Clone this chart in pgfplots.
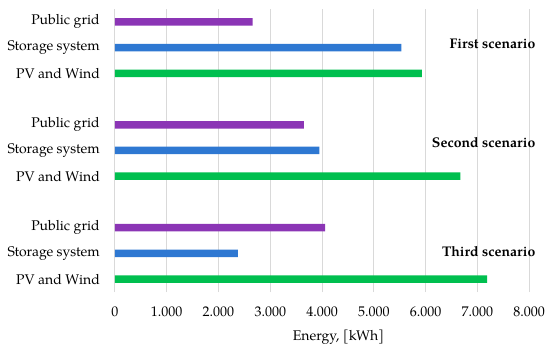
\documentclass[border=0pt]{standalone}
\usepackage{pgfplots}
\pgfplotsset{compat=1.18}
\usepackage{fontspec}
\setmainfont{TeX Gyre Pagella}
\definecolor{cpurple}{HTML}{8B35B5}
\definecolor{cblue}{HTML}{2E78D2}
\definecolor{cgreen}{HTML}{00BF4F}
\definecolor{cgrid}{HTML}{D9D9D9}
\begin{document}
\fontsize{14bp}{17bp}\selectfont
\begin{tikzpicture}
\path[use as bounding box] (-115bp,-59bp) rectangle (435bp,292bp);
\begin{axis}[
  at={(0,0)}, anchor=south west,
  scale only axis,
  width=414bp, height=283bp,
  xmin=0, xmax=8000,
  ymin=-0.5, ymax=10.5,
  axis line style={draw=none},
  major tick length=0pt,
  xtick={0,1000,...,8000},
  xticklabels={0,1.000,2.000,3.000,4.000,5.000,6.000,7.000,8.000},
  ytick={0,1,2,4,5,6,8,9,10},
  yticklabels={PV and Wind,Storage system,Public grid,PV and Wind,Storage system,Public grid,PV and Wind,Storage system,Public grid},
  xmajorgrids,
  grid style={cgrid, line width=1bp},
  xticklabel style={inner sep=0pt, yshift=-15bp, font=\fontsize{14bp}{17bp}\selectfont},
  yticklabel style={inner sep=0pt, xshift=-15bp, font=\fontsize{14bp}{17bp}\selectfont},
  xlabel={Energy, [kWh]},
  xlabel style={at={(axis description cs:0.54,0)}, anchor=north, inner sep=0pt, yshift=-38bp, font=\fontsize{14bp}{17bp}\selectfont},
  xbar, bar width=7.5bp, bar shift=0pt,
  clip=false,
]
\addplot[draw=none, fill=cpurple] coordinates {(2660,10) (3650,6) (4060,2)};
\addplot[draw=none, fill=cblue] coordinates {(5535,9) (3950,5) (2375,1)};
\addplot[draw=none, fill=cgreen] coordinates {(5930,8) (6675,4) (7190,0)};
\node[anchor=east, inner sep=0pt, xshift=6.5bp, font=\bfseries\fontsize{14bp}{17bp}\selectfont] at (axis cs:8000,9.14) {First scenario};
\node[anchor=east, inner sep=0pt, xshift=6.5bp, font=\bfseries\fontsize{14bp}{17bp}\selectfont] at (axis cs:8000,5.3) {Second scenario};
\node[anchor=east, inner sep=0pt, xshift=6.5bp, font=\bfseries\fontsize{14bp}{17bp}\selectfont] at (axis cs:8000,1.06) {Third scenario};
\end{axis}
\end{tikzpicture}
\end{document}
